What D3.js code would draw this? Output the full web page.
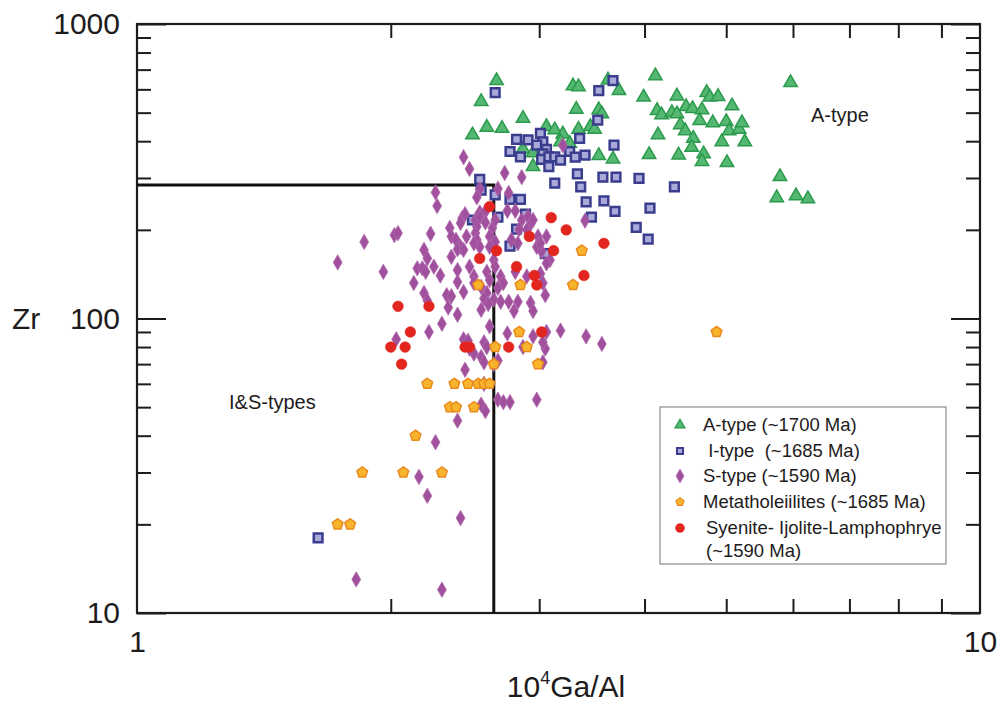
<!DOCTYPE html>
<html>
<head>
<meta charset="utf-8">
<script src="https://cdn.jsdelivr.net/npm/d3@7"></script>
<style>
  body { margin: 0; background: #fff; }
  svg text { font-family: "Liberation Sans", Arial, sans-serif; fill: #1e1b1c; }
</style>
</head>
<body>
<svg id="chart" width="1002" height="702"></svg>
<script>
// 10^4 Ga/Al vs Zr (ppm), pairs of [Ga/Al, Zr]
const aType = [
  [2.67,642],[2.56,545],[3.29,616],[3.34,612],[3.62,645],[3.73,594],[4.12,666],[3.99,564],
  [4.37,569],[4.74,585],[4.78,564],[4.89,567],[5.08,527],[5.96,632],[3.32,513],[3.53,511],
  [3.56,495],[4.14,508],[4.19,491],[4.31,500],[4.37,495],[4.48,524],[4.56,516],[4.68,511],
  [2.87,478],[2.60,446],[2.71,442],[2.50,420],[3.06,448],[3.13,437],[3.20,423],[3.34,439],
  [3.45,448],[3.49,439],[4.41,454],[4.47,434],[4.57,409],[4.65,470],[4.82,462],[5.00,466],
  [5.04,434],[5.18,439],[5.22,462],[4.94,398],[5.26,398],[4.15,420],[4.55,381],[4.70,362],
  [4.68,341],[4.39,359],[4.05,360],[3.53,357],[3.67,348],[2.95,328],[3.18,398],[3.26,393],
  [5.79,303],[5.74,257],[6.05,261],[6.25,255],[2.87,376],[2.95,365],[5.01,338]
];
const iType = [
  [2.66,585],[3.53,594],[3.67,642],[3.52,472],[2.82,406],[2.91,404],[3.01,425],[3.03,398],
  [2.98,388],[2.77,369],[2.85,354],[3.06,375],[3.03,362],[3.02,347],[3.08,354],[3.13,354],
  [3.18,345],[3.08,328],[3.26,369],[3.31,353],[3.40,359],[3.35,409],[3.68,388],[3.33,310],
  [3.13,288],[3.36,280],[3.57,302],[3.70,302],[3.94,299],[4.34,280],[2.55,297],[2.56,273],
  [2.66,263],[2.77,254],[2.85,254],[3.41,249],[3.58,251],[4.06,237],[3.69,231],[3.46,221],
  [3.91,204],[2.89,226],[2.68,221],[2.50,216],[2.82,201],[2.77,176],[3.05,166],[4.04,186],
  [1.64,18]
];
const sType = [
  [2.44,353],[2.48,322],[2.73,312],[2.86,302],[3.20,387],[2.55,275],[2.68,276],[2.76,267],
  [2.53,258],[2.26,268],[2.27,241],[2.75,232],[2.81,232],[2.55,229],[2.59,231],[2.43,219],
  [2.45,226],[2.42,211],[2.52,216],[2.55,221],[2.53,205],[2.59,212],[2.64,203],[2.66,216],
  [2.86,216],[2.91,222],[2.92,206],[2.95,216],[3.40,215],[2.02,192],[2.04,195],[2.23,194],
  [2.35,203],[2.36,190],[2.39,185],[2.46,190],[2.42,175],[2.40,172],[2.52,195],[2.53,185],
  [2.55,175],[2.62,190],[2.66,182],[2.62,175],[2.78,185],[2.83,180],[2.84,201],[2.90,200],
  [2.99,190],[3.06,190],[2.98,175],[3.02,169],[3.09,158],[2.19,171],[2.21,160],[2.15,148],
  [2.36,162],[2.25,150],[1.86,182],[1.73,155],[2.44,171],[2.51,180],[3.01,180],[3.06,154],
  [2.65,158],[1.96,144],[2.13,132],[2.18,148],[2.29,140],[2.40,133],[2.48,150],[2.51,139],
  [2.60,144],[2.66,150],[2.70,139],[2.62,135],[2.81,144],[2.90,139],[3.01,142],[3.03,132],
  [2.20,144],[2.40,146],[2.51,132],[2.56,128],[2.72,132],[2.68,127],[2.44,123],[2.33,120],
  [2.36,119],[2.19,122],[2.21,115],[2.60,122],[2.58,117],[2.65,116],[2.70,114],[2.76,114],
  [2.83,114],[2.80,106],[2.93,113],[2.95,106],[3.05,120],[2.61,112],[2.34,109],[2.40,103],
  [2.30,96],[2.22,90],[2.03,85],[2.56,107],[2.62,94],[2.75,89],[2.87,80],[2.95,87],
  [3.05,79],[3.18,91],[3.41,87],[3.56,82],[3.06,90],[3.03,83],[2.44,85],[2.47,84],
  [2.48,79],[2.51,76],[2.58,83],[2.60,80],[2.56,74],[2.58,71],[2.68,72],[2.65,70],
  [2.45,67],[2.58,60],[2.68,53],[2.72,52],[2.77,52],[2.56,51],[2.59,48.5],[2.98,53],
  [3.03,71],[2.40,45],[2.26,38],[2.16,29],[2.21,25],[2.42,21],[1.82,13],[2.30,12]
];
const metatholeiite = [
  [3.37,170],[2.54,130],[2.85,130],[3.29,130],[2.84,90],[2.66,80],[2.90,80],[2.65,70],
  [2.99,70],[2.21,60],[2.38,60],[2.47,60],[2.54,60],[2.58,60],[2.62,60],[2.35,50],
  [2.39,50],[2.51,50],[2.14,40],[1.85,30],[2.07,30],[2.30,30],[1.73,20],[1.79,20],
  [4.87,90]
];
const syenite = [
  [2.62,240],[3.10,220],[3.23,200],[3.58,180],[2.92,190],[3.12,170],[2.67,170],[2.55,160],
  [2.82,150],[2.96,140],[2.98,130],[3.39,140],[2.04,110],[2.22,110],[2.11,90],[3.02,90],
  [2.00,80],[2.08,80],[2.45,80],[2.48,80],[2.76,80],[2.06,70]
];

// Discrimination boundary (Ga/Al and Zr thresholds)
const gaAlLimit = 2.65;
const zrLimit = 284;

const xMinorTicks = [2,3,4,5,6,7,8,9];
const yMinorTicks = [20,30,40,50,60,70,80,90,200,300,400,500,600,700,800,900];
const yMajorTicks = [10,100,1000];
const xLabelTicks = [1,10];

const legendLabels = [
  ["A-type (~1700 Ma)"],
  [" I-type  (~1685 Ma)"],
  ["S-type (~1590 Ma)"],
  ["Metatholeiilites (~1685 Ma)"],
  ["Syenite- Ijolite-Lamphophrye", "(~1590 Ma)"]
];

const svg = d3.select("#chart");
const L = 137, R = 980, T = 24, B = 613;

const x = d3.scaleLog().domain([1, 10]).range([L, R]);
const y = d3.scaleLog().domain([10, 1000]).range([B, T]);

svg.append("rect").attr("width", 1002).attr("height", 702).attr("fill", "#fff");

// tick marks on all four sides, pointing inward
function tickAxis(axis, tx, ty, vals, size) {
  const g = svg.append("g").attr("transform", `translate(${tx},${ty})`)
    .call(axis.tickValues(vals).tickSize(size).tickFormat(""));
  g.select(".domain").remove();
  g.selectAll(".tick line").attr("stroke", "#1e1b1c").attr("stroke-width", 2);
  return g;
}
tickAxis(d3.axisBottom(x), 0, B, xMinorTicks, -14);
tickAxis(d3.axisTop(x), 0, T, xMinorTicks, -14);
tickAxis(d3.axisLeft(y), L, 0, yMinorTicks, -14);
tickAxis(d3.axisLeft(y), L, 0, yMajorTicks, -29);
tickAxis(d3.axisRight(y), R, 0, yMinorTicks, -14);
tickAxis(d3.axisRight(y), R, 0, yMajorTicks, -29);

// frame
svg.append("rect").attr("x", L).attr("y", T).attr("width", R - L).attr("height", B - T)
  .attr("fill", "none").attr("stroke", "#1e1b1c").attr("stroke-width", 2.2);

// tick labels
const yLab = svg.append("g").attr("transform", `translate(${L},0)`)
  .call(d3.axisLeft(y).tickValues(yMajorTicks).tickSize(0).tickPadding(17).tickFormat(d3.format("d")));
yLab.select(".domain").remove();
yLab.selectAll("text").attr("font-size", 30).attr("font-family", null).attr("fill", "#1e1b1c");

const xLab = svg.append("g").attr("transform", `translate(0,${B})`)
  .call(d3.axisBottom(x).tickValues(xLabelTicks).tickSize(0).tickPadding(18).tickFormat(d3.format("d")));
xLab.select(".domain").remove();
xLab.selectAll("text").attr("font-size", 30).attr("font-family", null).attr("fill", "#1e1b1c");

// axis titles
svg.append("text").attr("x", 12).attr("y", 329).attr("font-size", 30).text("Zr");
const xt = svg.append("text").attr("x", 566).attr("y", 697).attr("font-size", 30).attr("text-anchor", "middle");
xt.append("tspan").text("10");
xt.append("tspan").attr("font-size", 18).attr("dy", -13).text("4");
xt.append("tspan").attr("dy", 13).text("Ga/Al");

// field labels
svg.append("text").attr("x", 811).attr("y", 122).attr("font-size", 20).text("A-type");
svg.append("text").attr("x", 229).attr("y", 409).attr("font-size", 20).text("I&S-types");

// boundary lines
svg.append("path")
  .attr("d", d3.line()([[x(1), y(zrLimit)], [x(gaAlLimit), y(zrLimit)], [x(gaAlLimit), y(10)]]))
  .attr("fill", "none").attr("stroke", "#111").attr("stroke-width", 3);

// marker shapes
function pentagon(r) {
  const pts = d3.range(5).map(i => {
    const a = -Math.PI / 2 + i * 2 * Math.PI / 5;
    return [r * Math.cos(a), r * Math.sin(a)];
  });
  return d3.line()(pts) + "Z";
}
const styles = [
  { data: aType, d: s => d3.symbol(d3.symbolTriangle, 78 * s * s)(), fill: "#55b872", stroke: "#2b9a4c", sw: 1.5 },
  { data: iType, d: s => d3.symbol(d3.symbolSquare, 76 * s * s)(), fill: "#a9a9da", stroke: "#3a3d8e", sw: 2.5 },
  { data: sType, d: s => d3.symbol(d3.symbolDiamond, 68 * s * s)(), fill: "#a1509e", stroke: "#b06aac", sw: 0.8 },
  { data: metatholeiite, d: s => pentagon(5.6 * s), fill: "#f8b42d", stroke: "#ea8a1e", sw: 1.5 },
  { data: syenite, d: s => d3.symbol(d3.symbolCircle, 90 * s * s)(), fill: "#e2251e", stroke: "#e2251e", sw: 0.5 }
];

styles.forEach(st => {
  svg.append("g").selectAll("path").data(st.data).join("path")
    .attr("transform", d => `translate(${x(d[0])},${y(d[1])})`)
    .attr("d", st.d(1))
    .attr("fill", st.fill).attr("stroke", st.stroke).attr("stroke-width", st.sw);
});

// legend
const lg = svg.append("g");
lg.append("rect").attr("x", 660).attr("y", 407).attr("width", 286).attr("height", 157)
  .attr("fill", "#fff").attr("stroke", "#8a8a8a").attr("stroke-width", 1.2);
const rowY = [425, 451, 476, 502, 528];
const legendScale = [0.75, 0.7, 0.9, 0.75, 0.85];
styles.forEach((st, i) => {
  lg.append("path").attr("transform", `translate(680,${rowY[i]})`)
    .attr("d", st.d(legendScale[i]))
    .attr("fill", st.fill).attr("stroke", st.stroke).attr("stroke-width", st.sw * 0.8);
  legendLabels[i].forEach((t, k) => {
    lg.append("text").attr("x", i === 4 ? 706 : 703).attr("y", rowY[i] + 6 + k * 23)
      .attr("font-size", 18.5).attr("xml:space", "preserve").style("white-space", "pre").text(t);
  });
});
</script>
</body>
</html>
